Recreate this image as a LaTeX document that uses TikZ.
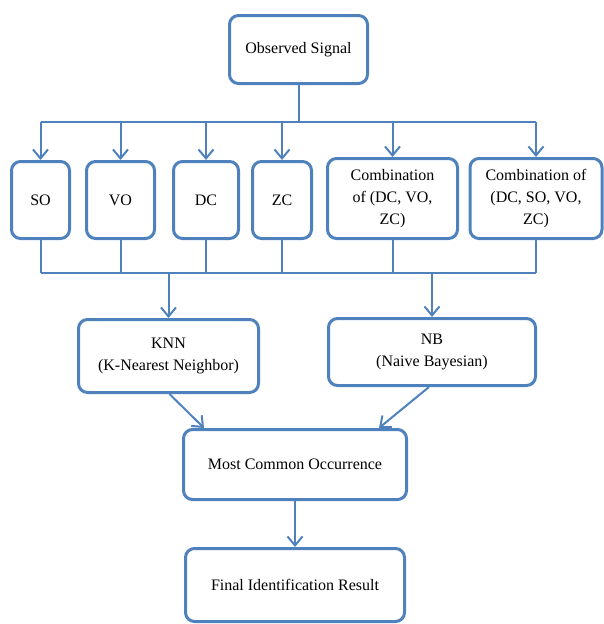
\documentclass[tikz,border=0pt]{standalone}
\usepackage{fontspec}
\setmainfont{Liberation Serif}
\usetikzlibrary{arrows.meta}
\definecolor{bl}{HTML}{4F81BD}
\tikzset{
  box/.style={draw=bl, line width=3pt, rounded corners=9pt, align=center, inner sep=0pt,
    font=\fontsize{16}{22}\selectfont, text=black},
  conn/.style={draw=bl, line width=2pt},
  arr/.style={conn, -{Straight Barb[length=9pt,width=15pt,line width=2pt]}}
}
\begin{document}
\begin{tikzpicture}[x=1pt,y=-1pt]
\useasboundingbox (0,0) rectangle (603,624);
\node[box, minimum width=138pt, minimum height=68pt] (obs) at (298.5,49.5) {Observed Signal};
\node[box, minimum width=58pt, minimum height=77pt] (so) at (40.5,200) {SO};
\node[box, minimum width=68pt, minimum height=77pt] (vo) at (120.5,200) {VO};
\node[box, minimum width=65pt, minimum height=77pt] (dc) at (206,200) {DC};
\node[box, minimum width=59pt, minimum height=77pt] (zc) at (282,200) {ZC};
\node[box, minimum width=130pt, minimum height=80pt] (c1) at (392.5,198.5) {Combination\\of (DC, VO,\\ZC)};
\node[box, minimum width=132pt, minimum height=80pt] (c2) at (536,198.5) {Combination of\\(DC, SO, VO,\\ZC)};
\node[box, minimum width=180pt, minimum height=73pt] (knn) at (168.5,356) {KNN\\(K-Nearest Neighbor)};
\node[box, minimum width=207pt, minimum height=67pt] (nb) at (432,352) {NB\\(Naive Bayesian)};
\node[box, minimum width=223pt, minimum height=70pt] (mco) at (295,464.5) {Most Common Occurrence};
\node[box, minimum width=219pt, minimum height=73pt] (fin) at (295,585) {Final Identification Result};
\coordinate (bus) at (0,122);
\coordinate (bus2) at (0,273);
% top bus
\draw[conn] (obs.south) -- (obs.south |- bus);
\draw[conn] (so.north |- bus) -- (c2.north |- bus);
\foreach \n in {so,vo,dc,zc,c1,c2}{
  \draw[arr] (\n.north |- bus) -- (\n.north);
}
% bottom bus
\foreach \n in {so,vo,dc,zc,c1,c2}{
  \draw[conn] (\n.south) -- (\n.south |- bus2);
}
\draw[conn] (so.south |- bus2) -- (c2.south |- bus2);
\draw[arr] (knn.north |- bus2) -- (knn.north);
\draw[arr] (nb.north |- bus2) -- (nb.north);
\draw[arr] ([xshift=1pt]knn.south) -- ([xshift=22pt]mco.north west);
\draw[arr] ([xshift=-3pt]nb.south) -- ([xshift=-29pt]mco.north east);
\draw[arr] (mco.south) -- (fin.north);
\end{tikzpicture}
\end{document}
